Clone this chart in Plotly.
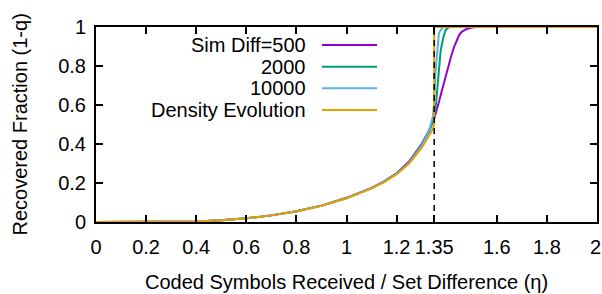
import plotly.graph_objects as go

# Density evolution (analytic prediction)
de_x = [0.0, 0.2, 0.3, 0.4, 0.5, 0.6, 0.7, 0.8, 0.9, 1.0, 1.1, 1.15, 1.2, 1.25, 1.3, 1.32, 1.335, 1.345, 1.3499, 1.35, 1.4, 2.0]
de_y = [0.0, 0.0, 0.0005, 0.003, 0.009, 0.019, 0.034, 0.054, 0.083, 0.122, 0.172, 0.205, 0.245, 0.30, 0.38, 0.42, 0.455, 0.48, 0.50, 1.0, 1.0, 1.0]

# Simulation, set difference = 500
s500_x = [0.0, 0.2, 0.3, 0.4, 0.5, 0.6, 0.7, 0.8, 0.9, 1.0, 1.1, 1.15, 1.2, 1.25, 1.3, 1.33, 1.35, 1.36, 1.37, 1.38, 1.39, 1.40, 1.41, 1.42, 1.43, 1.44, 1.45, 1.46, 1.48, 1.50, 1.52, 2.0]
s500_y = [0.0, 0.0, 0.0005, 0.003, 0.009, 0.019, 0.034, 0.055, 0.084, 0.124, 0.175, 0.208, 0.25, 0.31, 0.40, 0.47, 0.53, 0.57, 0.62, 0.67, 0.72, 0.77, 0.82, 0.86, 0.90, 0.935, 0.96, 0.975, 0.99, 0.997, 1.0, 1.0]

# Simulation, set difference = 2000
s2000_x = [0.0, 0.2, 0.3, 0.4, 0.5, 0.6, 0.7, 0.8, 0.9, 1.0, 1.1, 1.15, 1.2, 1.25, 1.3, 1.33, 1.345, 1.352, 1.357, 1.363, 1.369, 1.376, 1.387, 1.396, 1.41, 2.0]
s2000_y = [0.0, 0.0, 0.0005, 0.003, 0.009, 0.019, 0.034, 0.055, 0.084, 0.123, 0.174, 0.207, 0.248, 0.305, 0.395, 0.465, 0.52, 0.56, 0.60, 0.69, 0.80, 0.88, 0.95, 0.985, 1.0, 1.0]

# Simulation, set difference = 10000
s10000_x = [0.0, 0.2, 0.3, 0.4, 0.5, 0.6, 0.7, 0.8, 0.9, 1.0, 1.1, 1.15, 1.2, 1.25, 1.3, 1.33, 1.345, 1.35, 1.356, 1.363, 1.369, 1.379, 1.39, 2.0]
s10000_y = [0.0, 0.0, 0.0005, 0.003, 0.009, 0.019, 0.034, 0.054, 0.083, 0.122, 0.173, 0.206, 0.246, 0.302, 0.39, 0.47, 0.54, 0.62, 0.78, 0.90, 0.97, 0.99, 1.0, 1.0]

threshold = 1.35

x_ticks = [0, 0.2, 0.4, 0.6, 0.8, 1.0, 1.2, 1.35, 1.6, 1.8, 2.0]
x_tick_labels = ["0", "0.2", "0.4", "0.6", "0.8", "1", "1.2", "1.35", "1.6", "1.8", "2"]
y_ticks = [0, 0.2, 0.4, 0.6, 0.8, 1.0]
y_tick_labels = ["0", "0.2", "0.4", "0.6", "0.8", "1"]

series_names = ["Sim Diff=500", "2000", "10000", "Density Evolution"]
series_colors = ["#9400d3", "#009e73", "#56b4e9", "#e69f00"]
series_x = [s500_x, s2000_x, s10000_x, de_x]
series_y = [s500_y, s2000_y, s10000_y, de_y]

FONT = "Liberation Sans, Arial, Helvetica, sans-serif"

fig = go.Figure()

for xs, ys, c in zip(series_x, series_y, series_colors):
    fig.add_trace(go.Scatter(x=xs, y=ys, mode="lines", line=dict(color=c, width=2),
                             showlegend=False))

fig.add_trace(go.Scatter(x=[threshold, threshold], y=[0, 1], mode="lines",
                         line=dict(color="black", width=1.5, dash="6px,5px"),
                         showlegend=False, hoverinfo="skip"))

# custom legend (text right-aligned, sample line to the right), paper coordinates
L, R, T, B = 96, 597, 27, 222
def px(xp):
    return (xp - L) / (R - L)
def py(yp):
    return (B - yp) / (B - T)

row_y = [45, 66.7, 88.3, 110]
for name, c, yy in zip(series_names, series_colors, row_y):
    fig.add_annotation(x=px(308), y=py(yy), xref="paper", yref="paper", text=name,
                       showarrow=False, xanchor="right", yanchor="middle",
                       font=dict(family=FONT, size=20, color="black"))
    fig.add_shape(type="line", xref="paper", yref="paper", x0=px(322), x1=px(377),
                  y0=py(yy), y1=py(yy), line=dict(color=c, width=2))

fig.add_annotation(x=0.5, y=py(282), xref="paper", yref="paper",
                   text="Coded Symbols Received / Set Difference (η)", showarrow=False,
                   xanchor="center", yanchor="middle",
                   font=dict(family=FONT, size=20, color="black"))
fig.add_annotation(x=px(19), y=0.5, xref="paper", yref="paper",
                   text="Recovered Fraction (1-q)", showarrow=False, textangle=-90,
                   xanchor="center", yanchor="middle",
                   font=dict(family=FONT, size=20, color="black"))

# the last x tick label sits at the very edge of the canvas; place it explicitly
shown_x_labels = x_tick_labels[:-1] + [""]
fig.add_annotation(x=x_ticks[-1], y=py(247), xref="x", yref="paper",
                   text=x_tick_labels[-1], showarrow=False, xanchor="right",
                   yanchor="middle", xshift=5, borderpad=0,
                   font=dict(family=FONT, size=20, color="black"))

axis_common = dict(showgrid=False, zeroline=False, showline=True, linecolor="black",
                   linewidth=2, ticks="inside", ticklen=7, tickwidth=1.5,
                   tickcolor="black", mirror="ticks", automargin=False,
                   tickfont=dict(family=FONT, size=20, color="black"))

fig.update_layout(
    width=602, height=294,
    margin=dict(l=L, r=602 - R, t=T, b=294 - B, autoexpand=False),
    paper_bgcolor="white", plot_bgcolor="white",
    xaxis=dict(range=[0, 2], tickmode="array", tickvals=x_ticks, ticktext=shown_x_labels,
               ticklabelstandoff=6, **axis_common),
    yaxis=dict(range=[0, 1], tickmode="array", tickvals=y_ticks, ticktext=y_tick_labels,
               ticklabelstandoff=4, **axis_common),
    showlegend=False,
)

fig.write_html("out.html", config={"displayModeBar": False},
               post_script="document.body.style.margin='0';")
